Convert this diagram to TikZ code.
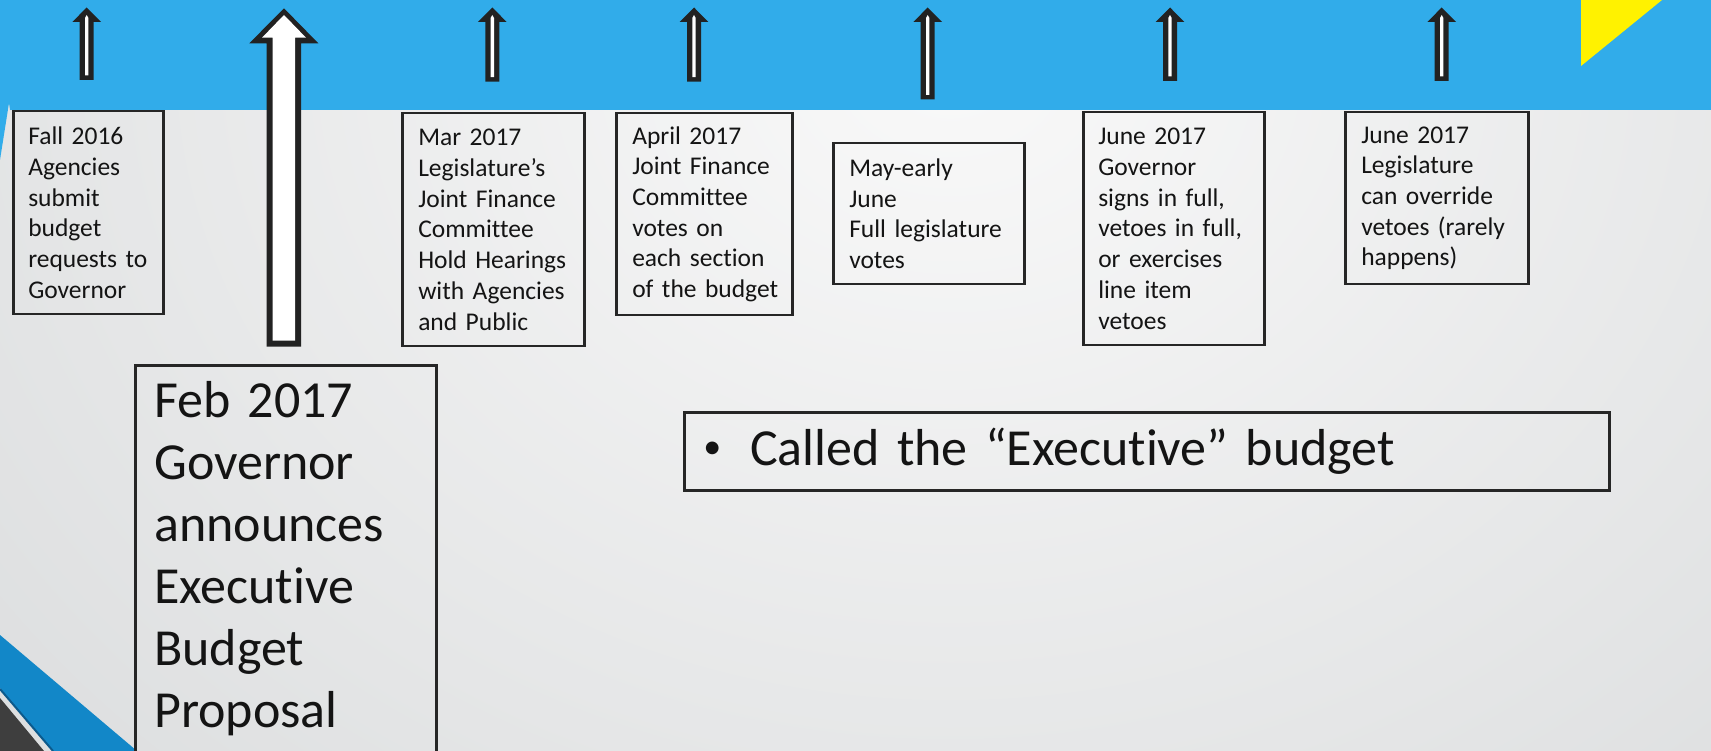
\documentclass[tikz,border=0pt]{standalone}
\usepackage{fontspec}
\setmainfont{Carlito}[Ligatures=NoCommon]

\definecolor{bandblue}{RGB}{49,172,234}
\definecolor{deepblue}{RGB}{18,135,200}
\definecolor{edgeblue}{RGB}{12,90,140}
\definecolor{cornergray}{RGB}{62,62,62}
\definecolor{boxline}{RGB}{38,38,38}
\definecolor{arrowink}{RGB}{34,34,34}
\definecolor{ink}{RGB}{20,20,20}
\definecolor{bgin}{RGB}{249,249,249}
\definecolor{bgout}{RGB}{197,200,202}
\pgfdeclareradialshading{backdrop}{\pgfpoint{0bp}{0bp}}{color(0bp)=(bgin); color(50bp)=(bgout)}

\begin{document}
\begin{tikzpicture}[x=1pt, y=-1pt,
    event/.style={draw=boxline, line width=2.5pt, anchor=north west, align=left,
      text=ink, inner xsep=15pt, font=\fontsize{25.5pt}{30.7pt}\selectfont,
      execute at begin node={\hyphenpenalty=10000}},
    bigtext/.style={font=\fontsize{52pt}{62pt}\selectfont}]
  \useasboundingbox (0,0) rectangle (1711,751);

  % backdrop
  \begin{scope}
    \clip (0,0) rectangle (1711,751);
    \shade[shading=backdrop] (-200,-890) rectangle (2100,1010);
  \end{scope}

  % band along the top, yellow corner, stripes bottom left
  \fill[bandblue] (0,0) -- (1711,0) -- (1711,110) -- (10,110) -- (9,103) -- (0,160) -- cycle;
  \fill[yellow] (1581,0) -- (1662,0) -- (1581,66) -- cycle;
  \fill[deepblue] (0,635) -- (137,751) -- (53,751) -- (0,688) -- cycle;
  \draw[edgeblue, line width=2pt] (0,689) -- (53,751);
  \fill[cornergray] (0,698) -- (44,751) -- (0,751) -- cycle;

  % small up arrows
  \foreach \x/\b in {86.7/80, 492.3/81.7, 694/81.7, 927.7/99.3, 1170/81, 1441.7/81} {
    \fill[arrowink] (\x,7.5) -- (\x+14.4,22) -- (\x+7,22) -- (\x+7,\b)
      -- (\x-7,\b) -- (\x-7,22) -- (\x-14.4,22) -- cycle;
    \fill[white] (\x,15) -- (\x+1.7,18) -- (\x+1.7,\b-4.5)
      -- (\x-1.7,\b-4.5) -- (\x-1.7,18) -- cycle;
  }

  % big arrow
  \fill[arrowink] (284,8.3) -- (318.3,43.3) -- (301,43.3) -- (301,346.7)
    -- (266.7,346.7) -- (266.7,43.3) -- (249.3,43.3) -- cycle;
  \fill[white] (284,15) -- (306,37.7) -- (295,37.7) -- (295,340.7)
    -- (272.7,340.7) -- (272.7,37.7) -- (262,37.7) -- cycle;

  % events
  \node[event, text width=120pt, minimum height=203pt] (fall) at (12,110)
    {Fall 2016\\Agencies\\submit\\budget\\requests~to\\Governor};
  \node[event, text width=150pt, minimum height=233pt, inner xsep=16pt] (mar) at (401,112)
    {Mar 2017\\Legislature’s\\Joint Finance\\Committee\\Hold~Hearings\\with~Agencies\\and Public};
  \node[event, text width=144pt, minimum height=202pt, inner xsep=16pt] (april) at (615,112)
    {April 2017\\Joint Finance\\Committee\\votes on\\each section\\of~the~budget};
  \node[event, text width=159pt, minimum height=141pt, inner xsep=16pt] (may) at (832,142)
    {May-early\\June\\Full~legislature\\votes};
  \node[event, text width=151pt, minimum height=233pt] (signs) at (1082,111)
    {June 2017\\Governor\\signs in full,\\vetoes~in~full,\\or exercises\\line item\\vetoes};
  \node[event, text width=151pt, minimum height=172pt, inner xsep=16pt] (override) at (1344,111)
    {June 2017\\Legislature\\can~override\\vetoes~(rarely\\happens)};

  \node[event, bigtext, text width=263pt, inner xsep=19pt, inner ysep=16pt, text depth=420pt] (feb) at (134,364)
    {Feb 2017\\Governor\\announces\\Executive\\Budget\\Proposal};
  \node[event, bigtext, text width=887pt, minimum height=78pt, inner xsep=19pt, inner ysep=8pt] (called) at (683,411)
    {\makebox[47pt][l]{\raisebox{7pt}{\fontsize{36pt}{36pt}\selectfont\textbullet}}Called the “Executive” budget};
\end{tikzpicture}
\end{document}
